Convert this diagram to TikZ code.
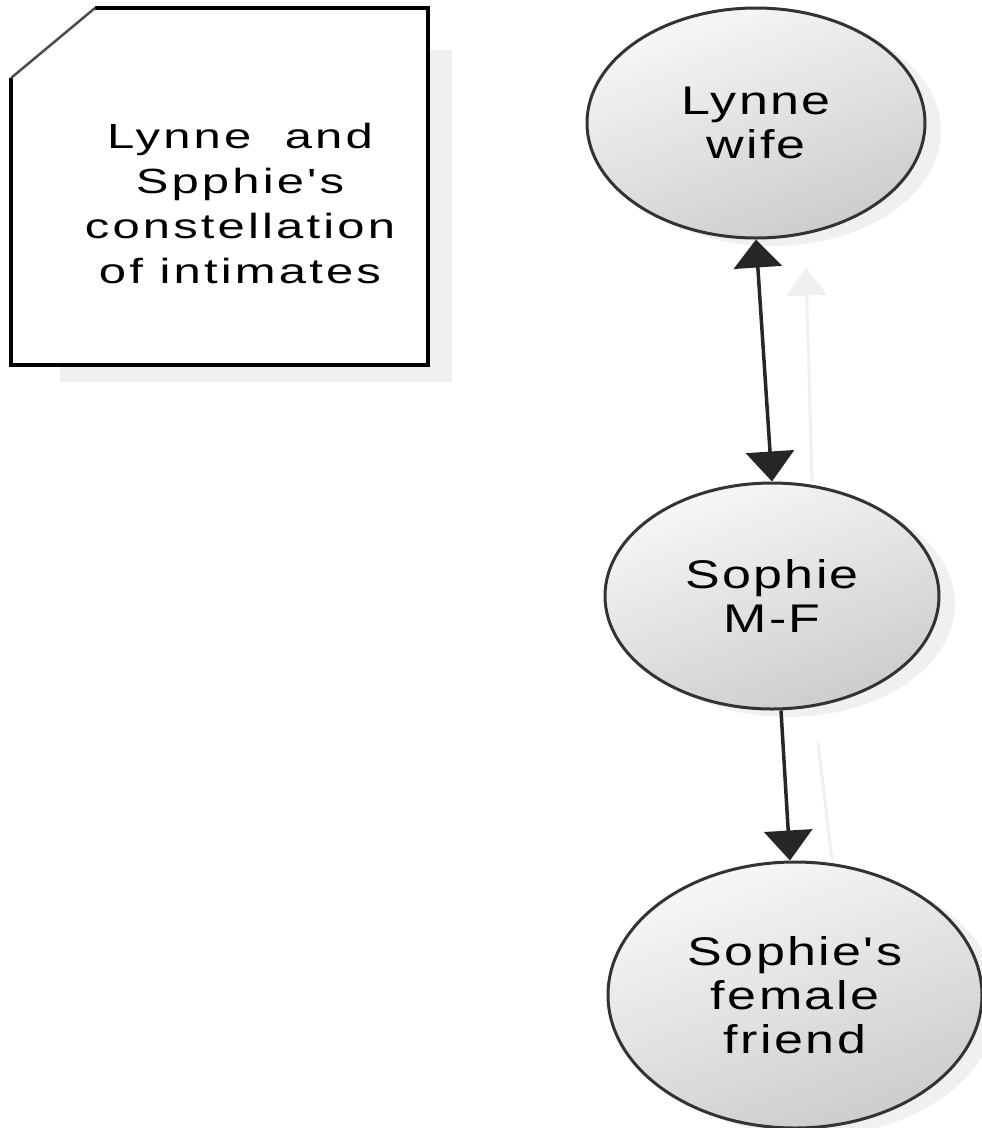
\documentclass[tikz,border=0pt]{standalone}
\usepackage{fontspec}
\setmainfont{Liberation Sans}
\newfontfamily\elfont[FakeStretch=1.3,LetterSpace=6]{Liberation Sans}
\newfontfamily\boxfont[FakeStretch=1.4,LetterSpace=9]{Liberation Sans}
\usetikzlibrary{shapes.geometric,arrows.meta,shadows}
\begin{document}
\begin{tikzpicture}[x=1pt,y=-1pt,
  person/.style={ellipse, draw=black!80, line width=3pt, inner sep=0pt,
    top color=black!3, bottom color=black!20, shading angle=20,
    align=center, font=\elfont\fontsize{40}{44}\selectfont,
    drop shadow={shadow xshift=16pt, shadow yshift=-8pt, fill=black, opacity=0.06}},
  link/.style={line width=3.5pt, draw=black!85, -{Triangle[width=48pt,length=30pt]}},
  faint/.style={line width=3pt, draw=black!6}]
\useasboundingbox (0,0) rectangle (982,1128);
% note box
\fill[black!6] (60,50) rectangle (452,382);
\fill[white] (11,78) -- (95,8) -- (428,8) -- (428,365) -- (11,365) -- cycle;
\draw[line width=4pt] (95,8) -- (428,8) -- (428,365) -- (11,365) -- (11,78);
\draw[line width=2.5pt, black!70] (11,78) -- (95,8);
\node[align=center, font=\boxfont\fontsize{35}{45}\selectfont] (note) at (240,203)
  {Lynne\ \ and\\Spphie's\\constellation\\of intimates};
% persons
\node[person, minimum width=338pt, minimum height=230pt] (lynne) at (756,123) {Lynne\\wife};
\node[person, minimum width=334pt, minimum height=226pt] (sophie) at (772,596) {Sophie\\M-F};
\node[person, minimum width=374pt, minimum height=266pt] (friend) at (795,995) {Sophie's\\female\\friend};
% faint traces
\draw[faint, -{Triangle[width=40pt,length=28pt]}] ([xshift=40pt]sophie.north) -- ([xshift=50pt,yshift=-28pt]lynne.south);
\draw[faint] ([xshift=46pt,yshift=-32pt]sophie.south) -- ([xshift=37pt]friend.north);
% connectors
\draw[link, {Triangle[width=48pt,length=28pt]}-{Triangle[width=48pt,length=30pt]}] (lynne.south) -- (sophie.north);
\draw[link] ([xshift=9pt]sophie.south) -- ([xshift=-5pt]friend.north);
\end{tikzpicture}
\end{document}
